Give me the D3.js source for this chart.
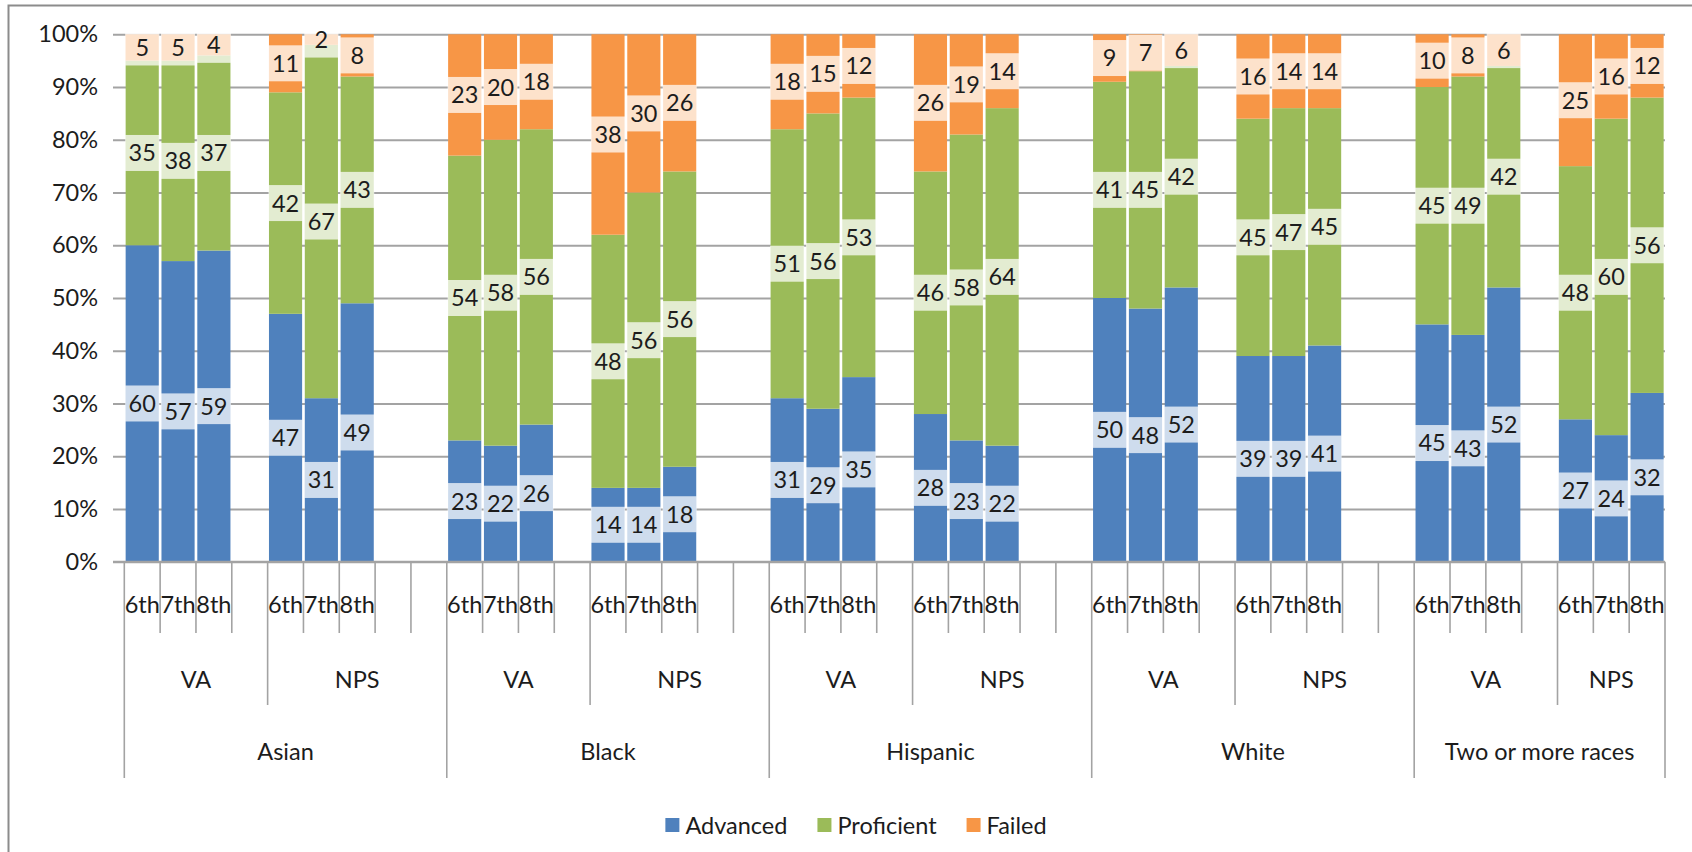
<!DOCTYPE html>
<html>
<head>
<meta charset="utf-8">
<script src="https://cdn.jsdelivr.net/npm/d3@7"></script>
<style>
  html, body { margin: 0; padding: 0; background: #ffffff; }
  svg { display: block; font-family: Lato, "Open Sans", "Noto Sans", sans-serif; }
</style>
</head>
<body>
<svg id="chart" width="1692" height="852"></svg>
<script>
// Categories: race / jurisdiction / grade
const races = ["Asian", "Black", "Hispanic", "White", "Two or more races"];
const sites = ["VA", "NPS"];
const grades = ["6th", "7th", "8th"];
// Empty category rows that follow each jurisdiction block
const blankSlots = { VA: 1, NPS: 2 };

// Percent of students in each performance band, ordered race -> site -> grade
const advanced   = [60, 57, 59, 47, 31, 49, 23, 22, 26, 14, 14, 18, 31, 29, 35, 28, 23, 22, 50, 48, 52, 39, 39, 41, 45, 43, 52, 27, 24, 32];
const proficient = [35, 38, 37, 42, 67, 43, 54, 58, 56, 48, 56, 56, 51, 56, 53, 46, 58, 64, 41, 45, 42, 45, 47, 45, 45, 49, 42, 48, 60, 56];
const failed     = [ 5,  5,  4, 11,  2,  8, 23, 20, 18, 38, 30, 26, 18, 15, 12, 26, 19, 14,  9,  7,  6, 16, 14, 14, 10,  8,  6, 25, 16, 12];

const seriesNames = ["Advanced", "Proficient", "Failed"];
const seriesKeys = ["advanced", "proficient", "failed"];
const seriesColors = ["#4f81bd", "#9bbb59", "#f79646"];
const yTicks = [0, 0.1, 0.2, 0.3, 0.4, 0.5, 0.6, 0.7, 0.8, 0.9, 1.0];

const W = 1692, H = 852;
const plot = { left: 124.3, right: 1665, top: 34.3, bottom: 561.7 };
const textColor = "#1c1c1c";
const lineColor = "#a3a3a3";
const fontSize = 23.5;

const svg = d3.select("#chart");

// Chart frame
svg.append("path")
  .attr("d", `M8.5,${H} V5.5 H${W}`)
  .attr("fill", "none")
  .attr("stroke", "#8c8c8c")
  .attr("stroke-width", 2);

// Build the category slots, including empty separator slots
const slots = [];
races.forEach((race, ri) => {
  sites.forEach((site, si) => {
    grades.forEach((grade, gi) => {
      const i = (ri * sites.length + si) * grades.length + gi;
      slots.push({
        key: `${race}|${site}|${grade}`, race, site, grade,
        advanced: advanced[i], proficient: proficient[i], failed: failed[i]
      });
    });
    for (let b = 0; b < blankSlots[site]; b++) {
      slots.push({ key: `${race}|${site}|blank${b}`, race, site, grade: "", blank: true });
    }
  });
});
while (slots.length && slots[slots.length - 1].blank) slots.pop();

const dataSlots = slots.filter(d => !d.blank);

const x = d3.scaleBand()
  .domain(slots.map(d => d.key))
  .range([plot.left, plot.right])
  .paddingInner(0.075)
  .paddingOuter(0.0375);

const y = d3.scaleLinear().domain([0, 1]).range([plot.bottom, plot.top]);

const slotLeft = key => x(key) - (x.step() - x.bandwidth()) / 2;

// Y axis with gridlines
const yAxis = d3.axisLeft(y)
  .tickValues(yTicks)
  .tickFormat(d3.format(".0%"))
  .tickSize(-(plot.right - 113))
  .tickPadding(15);

const yG = svg.append("g")
  .attr("transform", "translate(113,0)")
  .call(yAxis);
yG.select(".domain").remove();
yG.selectAll(".tick line")
  .attr("stroke", lineColor)
  .attr("stroke-width", 2);
yG.selectAll(".tick text")
  .attr("fill", textColor)
  .style("font-size", fontSize + "px")
  .style("font-family", "Lato, 'Open Sans', sans-serif");

// Stacked bars
const stack = d3.stack().keys(seriesKeys);
const stacked = stack(dataSlots.map(d => ({
  key: d.key,
  advanced: d.advanced / 100,
  proficient: d.proficient / 100,
  failed: d.failed / 100
})));

const barsG = svg.append("g");
stacked.forEach((layer, li) => {
  barsG.append("g")
    .attr("fill", seriesColors[li])
    .selectAll("rect")
    .data(layer)
    .join("rect")
    .attr("x", d => x(d.data.key))
    .attr("width", x.bandwidth())
    .attr("y", d => y(d[1]))
    .attr("height", d => y(d[0]) - y(d[1]));
});

// Data labels with translucent boxes
const labelsG = svg.append("g");
const boxH = 36;
stacked.forEach((layer, li) => {
  const g = labelsG.append("g");
  layer.forEach(d => {
    const value = Math.round((d[1] - d[0]) * 100);
    const cx = x(d.data.key) + x.bandwidth() / 2;
    const cy = y((d[0] + d[1]) / 2);
    g.append("rect")
      .attr("x", x(d.data.key) - 0.5)
      .attr("width", x.bandwidth() + 1)
      .attr("y", cy - boxH / 2)
      .attr("height", boxH)
      .attr("fill", "#ffffff")
      .attr("fill-opacity", 0.72);
    g.append("text")
      .attr("x", cx)
      .attr("y", cy)
      .attr("dy", "0.36em")
      .attr("text-anchor", "middle")
      .attr("fill", textColor)
      .style("font-size", fontSize + "px")
      .text(value);
  });
});

// Multi-level category axis
const axisG = svg.append("g");
const levelBottom = { grade: 633, site: 705, race: 778 };
const boundaries = [];
slots.forEach((s, i) => {
  let level = "grade";
  if (i === 0 || slots[i - 1].race !== s.race) level = "race";
  else if (slots[i - 1].site !== s.site) level = "site";
  boundaries.push({ xpos: slotLeft(s.key), level });
});
boundaries.push({ xpos: plot.right, level: "race" });

axisG.append("line")
  .attr("x1", 113).attr("x2", plot.right)
  .attr("y1", plot.bottom).attr("y2", plot.bottom)
  .attr("stroke", lineColor).attr("stroke-width", 2);

axisG.selectAll("line.bound")
  .data(boundaries)
  .join("line")
  .attr("class", "bound")
  .attr("x1", d => d.xpos).attr("x2", d => d.xpos)
  .attr("y1", plot.bottom)
  .attr("y2", d => levelBottom[d.level])
  .attr("stroke", lineColor)
  .attr("stroke-width", 1.6);

// Grade labels
axisG.selectAll("text.grade")
  .data(slots.filter(d => !d.blank))
  .join("text")
  .attr("class", "grade")
  .attr("x", d => x(d.key) + x.bandwidth() / 2)
  .attr("y", 605)
  .attr("dy", "0.36em")
  .attr("text-anchor", "middle")
  .attr("fill", textColor)
  .style("font-size", fontSize + "px")
  .text(d => d.grade);

// Jurisdiction and race labels centred on their groups
const groupSpan = (filterFn) => {
  const members = slots.filter(filterFn);
  const x0 = slotLeft(members[0].key);
  const x1 = slotLeft(members[members.length - 1].key) + x.step();
  return (x0 + x1) / 2;
};

races.forEach(race => {
  sites.forEach(site => {
    axisG.append("text")
      .attr("x", groupSpan(d => d.race === race && d.site === site))
      .attr("y", 680)
      .attr("dy", "0.36em")
      .attr("text-anchor", "middle")
      .attr("fill", textColor)
      .style("font-size", fontSize + "px")
      .text(site);
  });
  axisG.append("text")
    .attr("x", groupSpan(d => d.race === race))
    .attr("y", 752)
    .attr("dy", "0.36em")
    .attr("text-anchor", "middle")
    .attr("fill", textColor)
    .style("font-size", fontSize + "px")
    .text(race);
});

// Legend
const legendG = svg.append("g");
const sq = 14, sqGap = 6, itemGap = 30, legendY = 826;
let cursor = 0;
const items = seriesNames.map((name, i) => {
  const g = legendG.append("g");
  g.append("rect")
    .attr("x", 0).attr("y", legendY - sq / 2 - 1)
    .attr("width", sq).attr("height", sq)
    .attr("fill", seriesColors[i]);
  const t = g.append("text")
    .attr("x", sq + sqGap)
    .attr("y", legendY)
    .attr("dy", "0.36em")
    .attr("fill", textColor)
    .style("font-size", fontSize + "px")
    .text(name);
  const w = sq + sqGap + t.node().getComputedTextLength();
  g.attr("transform", `translate(${cursor},0)`);
  cursor += w + itemGap;
  return g;
});
const legendWidth = cursor - itemGap;
legendG.attr("transform", `translate(${856 - legendWidth / 2},0)`);
</script>
</body>
</html>
